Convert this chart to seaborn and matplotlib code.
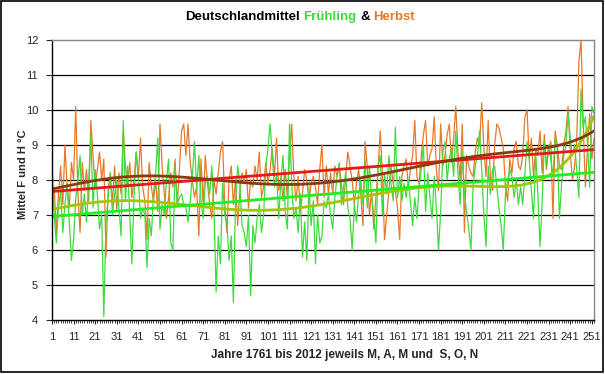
import numpy as np
import pandas as pd
import matplotlib
matplotlib.use("Agg")
import matplotlib.pyplot as plt
import seaborn as sns

# Jahre 1761..2012 -> Index 1..252
years = np.arange(1, 253)

# Frühling (M, A, M)
spring = [
    8.5, 7.0, 6.2, 7.2, 7.7, 6.5, 7.3, 7.9, 6.8, 5.7,
    6.3, 7.5, 8.0, 8.7, 7.0, 7.6, 6.8, 8.0, 9.3, 7.2,
    8.3, 7.6, 6.6, 7.0, 4.1, 6.8, 7.5, 8.2, 7.0, 7.6,
    8.0, 7.2, 6.4, 9.7, 7.4, 8.4, 7.0, 5.6, 7.6, 8.8,
    8.0, 6.9, 7.2, 7.0, 5.5, 6.9, 6.4, 7.6, 8.2, 9.2,
    6.6, 7.3, 7.0, 8.0, 8.6, 6.2, 6.0, 8.4, 7.3, 7.5,
    7.6, 7.3, 7.2, 6.8, 7.4, 8.1, 9.1, 7.7, 8.7, 7.4,
    6.9, 7.9, 8.1, 7.6, 8.4, 7.2, 4.8, 6.4, 5.6, 7.9,
    7.0, 6.8, 5.7, 6.4, 4.5, 7.4, 8.4, 7.9, 6.7, 6.5,
    6.1, 7.0, 4.7, 6.7, 6.2, 6.9, 7.3, 6.5, 7.0, 8.4,
    8.9, 9.6, 8.7, 7.8, 8.2, 6.9, 8.0, 8.7, 7.1, 6.6,
    9.6, 7.9, 6.9, 7.2, 6.5, 7.6, 5.8, 6.8, 5.7, 7.8,
    6.7, 7.4, 5.6, 7.0, 6.2, 6.4, 7.4, 7.2, 7.6, 7.0,
    6.6, 7.5, 8.1, 8.5, 7.3, 7.8, 8.2, 7.2, 6.9, 6.0,
    7.3, 6.8, 7.6, 8.0, 7.3, 8.6, 7.2, 8.4, 7.5, 7.0,
    6.2, 8.4, 8.7, 7.0, 8.2, 7.6, 8.7, 7.9, 7.4, 9.5,
    7.5, 8.1, 7.4, 7.9, 7.5, 8.0, 7.4, 6.7, 7.5, 6.9,
    7.8, 8.3, 9.0, 7.1, 8.2, 7.5, 6.9, 8.1, 7.2, 6.0,
    7.1, 8.8, 9.1, 8.0, 8.6, 8.9, 8.1, 9.4, 8.2, 7.3,
    8.8, 7.6, 7.1, 6.6, 6.0, 7.8, 8.4, 8.7, 9.4, 8.3,
    7.0, 6.1, 8.4, 7.6, 8.3, 8.4, 7.8, 7.2, 6.7, 6.0,
    7.6, 8.0, 8.3, 8.1, 7.5, 8.0, 7.3, 7.8, 7.3, 8.2,
    9.1, 8.6, 7.7, 6.9, 8.8, 7.6, 6.1, 7.4, 9.1, 8.4,
    9.0, 8.6, 8.1, 9.2, 8.9, 6.9, 7.9, 8.7, 9.0, 9.9,
    9.2, 8.7, 9.0, 8.3, 7.5, 10.6, 9.5, 9.8, 9.0, 7.8,
    10.1, 9.9,
]

# Herbst (S, O, N)
autumn = [
    6.9, 7.8, 6.5, 7.6, 8.4, 7.3, 9.0, 7.8, 7.2, 8.5,
    8.0, 10.1, 7.6, 6.5, 8.5, 7.7, 8.3, 7.4, 9.7, 8.7,
    7.8, 8.3, 8.8, 8.0, 8.6, 5.8, 7.7, 8.2, 7.3, 8.4,
    7.1, 8.2, 7.6, 9.4, 8.4, 7.9, 8.5, 7.5, 8.0, 8.8,
    8.1, 9.2, 7.8, 7.4, 6.3, 8.5, 7.8, 7.4, 8.0, 7.1,
    9.6, 8.4, 7.6, 6.9, 7.5, 8.2, 7.8, 8.6, 7.3, 8.3,
    9.4, 9.6, 8.7, 9.6, 8.5, 8.0, 7.5, 7.8, 6.4, 8.6,
    7.3, 8.7, 7.9, 7.3, 6.9, 8.0, 7.6, 8.2, 8.8, 9.1,
    7.3, 6.5, 8.0, 8.4, 7.3, 8.0, 6.7, 7.7, 8.2, 7.9,
    8.3, 7.2, 8.0, 7.8, 8.4, 8.0, 8.8, 7.5, 7.8, 8.5,
    7.9, 8.3, 8.9, 8.1, 9.2, 7.7, 8.1, 7.4, 8.3, 7.5,
    8.7, 9.6, 8.1, 7.4, 8.1, 7.1, 7.6, 8.3, 8.0, 7.4,
    7.9, 8.1, 7.8, 7.3, 8.3, 9.0, 7.5, 8.4, 7.6, 8.2,
    7.6, 8.4, 8.1, 8.4, 7.9, 7.3, 8.1, 8.8, 8.4, 8.0,
    7.3, 7.9, 8.3, 7.6, 6.7, 9.1, 8.4, 7.0, 7.7, 6.6,
    7.5, 8.3, 9.4, 8.2, 6.3, 7.0, 7.7, 8.4, 7.9, 7.7,
    7.2, 6.3, 8.1, 8.4, 8.6, 7.8, 8.3, 8.7, 9.7, 8.1,
    7.9, 8.7, 9.3, 9.7, 8.4, 8.7, 8.9, 9.8, 8.3, 7.7,
    9.6, 8.4, 8.7, 9.3, 9.6, 8.5, 9.2, 10.1, 8.8, 8.0,
    9.6, 6.5, 8.7, 8.4, 8.2, 8.1, 8.8, 9.2, 9.0, 10.2,
    8.9, 8.1, 9.7, 8.1, 7.7, 9.0, 9.6, 9.5, 9.2, 8.9,
    7.8, 7.4, 8.6, 8.2, 8.9, 9.1, 8.4, 8.3, 8.7, 9.8,
    10.0, 8.6, 9.2, 8.1, 8.9, 8.7, 9.4, 8.2, 9.3, 8.3,
    8.9, 9.1, 6.9, 9.4, 9.0, 8.4, 8.3, 9.0, 9.4, 10.1,
    8.8, 8.0, 8.4, 9.1, 11.4, 12.0, 9.6, 7.8, 8.9, 9.9,
    8.6, 9.2,
]

tick_labels = [str(v) for v in range(1, 252, 10)]

green = "#3ddc3d"
orange = "#e8782a"

df = pd.DataFrame({"Jahr": years, "Frühling": spring, "Herbst": autumn})

# Trendlinien (linear und Polynom 6. Grades wie in Excel)
xs = (years - 126.5) / 126.5
lin_f = np.polyval(np.polyfit(xs, df["Frühling"], 1), xs)
lin_h = np.polyval(np.polyfit(xs, df["Herbst"], 1), xs)
poly_f = np.polyval(np.polyfit(xs, df["Frühling"], 6), xs)
poly_h = np.polyval(np.polyfit(xs, df["Herbst"], 6), xs)

sns.set_style("white")
plt.rcParams["font.family"] = ["Liberation Sans", "DejaVu Sans"]

fig = plt.figure(figsize=(6.05, 3.74), dpi=100)
ax = fig.add_axes([52 / 605, 1 - 320 / 374, 542 / 605, 280 / 374])

sns.lineplot(data=df, x="Jahr", y="Herbst", ax=ax, color=orange, lw=0.9)
sns.lineplot(data=df, x="Jahr", y="Frühling", ax=ax, color=green, lw=0.9)
sns.lineplot(x=years, y=poly_f, ax=ax, color="#a6c400", lw=2)
sns.lineplot(x=years, y=lin_f, ax=ax, color="#22ee22", lw=2)
sns.lineplot(x=years, y=lin_h, ax=ax, color="#e21a1a", lw=2)
sns.lineplot(x=years, y=poly_h, ax=ax, color="#8b3a0e", lw=2)

ax.set_xlim(1, 252)
ax.set_ylim(4, 12)
ax.set_yticks(range(4, 13))
for v in range(5, 12):
    ax.axhline(v, color="black", lw=0.9, zorder=0)
ax.set_xticks(range(1, 252, 10))
ax.set_xticklabels(tick_labels)
ax.set_xticks(range(1, 253), minor=True)
ax.tick_params(axis="x", which="major", direction="out", length=3, width=0.8,
               labelsize=8, pad=6, bottom=True)
ax.tick_params(axis="x", which="minor", direction="out", length=2, width=0.6, bottom=True)
ax.tick_params(axis="y", direction="out", length=4, width=0.8, labelsize=8, left=True, pad=6)

for s in ["top", "right"]:
    ax.spines[s].set_color("#888888")
    ax.spines[s].set_linewidth(1)
for s in ["left", "bottom"]:
    ax.spines[s].set_color("black")
    ax.spines[s].set_linewidth(1)

ax.set_xlabel("Jahre 1761 bis 2012 jeweils M, A, M und  S, O, N",
              fontsize=8.5, fontweight="bold")
ax.xaxis.set_label_coords(0.54, -0.105)
ax.set_ylabel("Mittel F und H °C", fontsize=8, fontweight="bold")
ax.yaxis.set_label_coords(-0.045, 0.52)

# Titel mit farbigen Wörtern
parts = [("Deutschlandmittel", "black"), ("Frühling", green), ("&", "black"), ("Herbst", orange)]
fig.canvas.draw()
r = fig.canvas.get_renderer()
tmp = fig.text(0, 0, "a a", fontsize=9.5, fontweight="bold")
w_sp = tmp.get_window_extent(r).width
tmp.set_text("aa")
w_sp -= tmp.get_window_extent(r).width
tmp.remove()
texts = [fig.text(0, 1 - 17 / 374, t, color=c, fontsize=9.5, fontweight="bold", va="center")
         for t, c in parts]
widths = [t.get_window_extent(r).width for t in texts]
total = sum(widths) + w_sp * (len(parts) - 1)
x0 = 300 - total / 2
for t, w in zip(texts, widths):
    t.set_x(x0 / 605)
    x0 += w + w_sp

# Rahmen um die Grafik
fig.patches.append(plt.Rectangle((0.002, 0.006), 0.994, 0.99, transform=fig.transFigure,
                                 fill=False, edgecolor="black", lw=1.2))

fig.savefig("out.png", dpi=100)
